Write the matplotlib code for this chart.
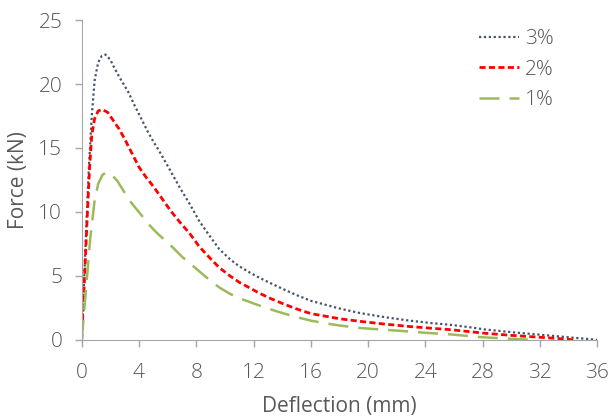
import matplotlib
matplotlib.use("Agg")
import matplotlib.pyplot as plt

# 3% fibre
x3 = [0, 0.25, 0.5, 0.7, 0.9, 1.15, 1.4, 1.66, 2.0, 2.3, 2.7, 3.24, 3.7, 4.2, 4.6, 5.0,
      5.34, 6.0, 6.85, 7.55, 8.2, 8.95, 9.6, 10.35, 11.0, 11.75, 12.5, 13.15, 14, 15,
      16, 17, 18, 19.4, 21, 22.9, 24.5, 25.7, 27, 28.1, 30, 32, 34, 36]
y3 = [0, 7, 13.5, 17.5, 20.3, 21.7, 22.2, 22.3, 21.9, 21.2, 20.4, 19.4, 18.3, 17.2, 16.3, 15.5,
      14.9, 13.6, 11.9, 10.6, 9.3, 8.1, 7.1, 6.3, 5.75, 5.25, 4.8, 4.45, 4.0, 3.5,
      3.05, 2.75, 2.45, 2.1, 1.8, 1.5, 1.3, 1.18, 1.0, 0.82, 0.6, 0.4, 0.2, 0]

# 2% fibre
x2 = [0, 0.2, 0.4, 0.55, 0.7, 0.9, 1.15, 1.42, 1.8, 2.17, 2.6, 3.0, 3.5, 4.0, 4.5, 5.0,
      5.57, 6.2, 6.85, 7.55, 8.2, 8.95, 9.6, 10.35, 11.0, 11.75, 12.4, 13.15, 14, 15,
      16, 17, 18, 19.4, 21, 22.9, 24.5, 25.7, 27, 28.1, 30, 32, 33.3, 34.4]
y2 = [0, 5, 10, 13.5, 16, 17.3, 17.9, 18.0, 17.8, 17.2, 16.5, 15.7, 14.6, 13.5, 12.7, 12.0,
      11.1, 10.1, 9.2, 8.3, 7.3, 6.4, 5.65, 5.0, 4.5, 4.05, 3.65, 3.25, 2.85, 2.42,
      2.05, 1.85, 1.65, 1.45, 1.25, 1.04, 0.9, 0.8, 0.65, 0.52, 0.35, 0.2, 0.1, 0]

# 1% fibre
x1 = [0, 0.3, 0.6, 0.9, 1.15, 1.45, 1.72, 2.1, 2.5, 3.0, 3.47, 4.06, 4.7, 5.3, 5.8,
      6.38, 7.0, 7.9, 8.95, 9.6, 10.35, 11.0, 11.75, 12.8, 13.85, 15, 16, 17, 18,
      19.4, 21, 22.9, 24, 25.7, 27, 28, 30, 31.5]
y1 = [0, 4, 8, 10.9, 12.2, 12.9, 13.1, 12.9, 12.4, 11.5, 10.7, 9.9, 9.0, 8.3, 7.8,
      7.2, 6.5, 5.65, 4.65, 4.1, 3.6, 3.25, 2.95, 2.52, 2.15, 1.78, 1.5, 1.3, 1.12,
      0.93, 0.8, 0.65, 0.55, 0.43, 0.3, 0.2, 0.08, 0]

xticks = list(range(0, 37, 4))
yticks = [0, 5, 10, 15, 20, 25]

plt.rcParams['font.family'] = ['Open Sans', 'DejaVu Sans']
plt.rcParams['font.weight'] = 'light'
txt = '#595959'

fig = plt.figure(figsize=(6.1, 4.18), dpi=100)
ax = fig.add_axes([0.134, 0.187, 0.845, 0.765])

ax.plot(x3, y3, color='#44546A', lw=1.6, linestyle=(0, (1, 1.2)), label='3%')
ax.plot(x2, y2, color='#FF0000', lw=2.0, linestyle=(0, (2.2, 1.2)), label='2%')
ax.plot(x1, y1, color='#9BBB59', lw=1.8, linestyle=(0, (8, 4)), label='1%')

ax.set_xlim(0, 36)
ax.set_ylim(0, 25)
ax.set_xticks(xticks)
ax.set_yticks(yticks)
ax.tick_params(colors='#a6a6a6', labelcolor=txt, labelsize=15, length=5, width=1)
ax.tick_params(axis='x', pad=12)
ax.tick_params(axis='y', pad=9)
for s in ['top', 'right']:
    ax.spines[s].set_visible(False)
for s in ['left', 'bottom']:
    ax.spines[s].set_color('#a6a6a6')
ax.set_xlabel('Deflection (mm)', fontsize=15, color=txt, labelpad=9)
ax.set_ylabel('Force (kN)', fontsize=15, color=txt, labelpad=7)

ax.legend(loc='upper right', bbox_to_anchor=(0.952, 1.03), frameon=False, fontsize=15,
          labelcolor=txt, handlelength=1.9, handletextpad=0.3, labelspacing=0.5)

fig.savefig('out.png', dpi=100)
